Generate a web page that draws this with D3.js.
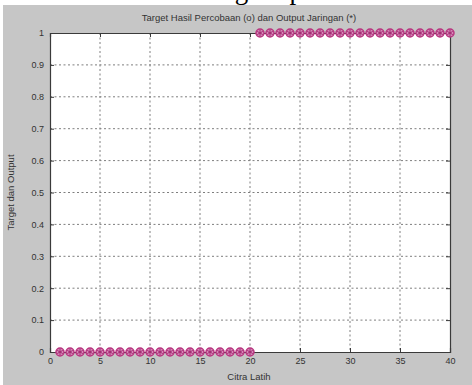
<!DOCTYPE html>
<html>
<head>
<meta charset="utf-8">
<script src="https://cdn.jsdelivr.net/npm/d3@7"></script>
<style>
  html, body { margin: 0; padding: 0; background: #fff; }
  svg { display: block; }
  text { font-family: "Liberation Sans", Arial, sans-serif; }
</style>
</head>
<body>
<svg id="chart" width="472" height="385"></svg>
<script>
// Training images (Citra Latih) 1..40
const imageIndex = d3.range(1, 41);
// Experiment targets (o)
const targetValues = [0,0,0,0,0,0,0,0,0,0,0,0,0,0,0,0,0,0,0,0,
                      1,1,1,1,1,1,1,1,1,1,1,1,1,1,1,1,1,1,1,1];
// Network outputs (*)
const outputValues = [0,0,0,0,0,0,0,0,0,0,0,0,0,0,0,0,0,0,0,0,
                      1,1,1,1,1,1,1,1,1,1,1,1,1,1,1,1,1,1,1,1];
const xTicks = [0, 5, 10, 15, 20, 25, 30, 35, 40];
const yTicks = [0, 0.1, 0.2, 0.3, 0.4, 0.5, 0.6, 0.7, 0.8, 0.9, 1];

const svg = d3.select("#chart");
const W = 472, H = 385;

// page text above the figure (only its descenders show above the figure)
svg.append("text")
  .attr("x", 324).attr("y", -1)
  .attr("text-anchor", "end")
  .style("font-family", "'Liberation Serif', 'Times New Roman', serif")
  .style("font-size", "27px")
  .attr("fill", "#000")
  .text("Hasil training output");

// figure background
svg.append("rect").attr("x", 3).attr("y", 5).attr("width", W - 3).attr("height", H - 5)
  .attr("fill", "#c6c6c6");

const m = { left: 50, top: 33, right: 450, bottom: 352 };
const x = d3.scaleLinear().domain([0, 40]).range([m.left, m.right]);
const y = d3.scaleLinear().domain([0, 1]).range([m.bottom, m.top]);

svg.append("rect").attr("x", m.left).attr("y", m.top)
  .attr("width", m.right - m.left).attr("height", m.bottom - m.top)
  .attr("fill", "#fff");

// dotted grid
const grid = svg.append("g").attr("stroke", "#7e7e7e").attr("stroke-width", 1)
  .attr("stroke-dasharray", "2,2.5");
grid.selectAll("line.v").data(xTicks.slice(1, -1)).join("line")
  .attr("x1", d => x(d)).attr("x2", d => x(d)).attr("y1", m.top).attr("y2", m.bottom);
grid.selectAll("line.h").data(yTicks.slice(1, -1)).join("line")
  .attr("y1", d => y(d)).attr("y2", d => y(d)).attr("x1", m.left).attr("x2", m.right);

// axes with inward ticks
const axisColor = "#3a3a3a";
const xAxis = svg.append("g").attr("transform", `translate(0,${m.bottom})`)
  .call(d3.axisBottom(x).tickValues(xTicks).tickSize(-4).tickPadding(6).tickFormat(d3.format("d")));
const xAxisTop = svg.append("g").attr("transform", `translate(0,${m.top})`)
  .call(d3.axisTop(x).tickValues(xTicks).tickSize(-4).tickFormat(""));
const yAxis = svg.append("g").attr("transform", `translate(${m.left},0)`)
  .call(d3.axisLeft(y).tickValues(yTicks).tickSize(-4).tickPadding(6).tickFormat(d => d === 0 || d === 1 ? d3.format("d")(d) : d3.format(".1f")(d)));
const yAxisRight = svg.append("g").attr("transform", `translate(${m.right},0)`)
  .call(d3.axisRight(y).tickValues(yTicks).tickSize(-4).tickFormat(""));
[xAxis, xAxisTop, yAxis, yAxisRight].forEach(g => {
  g.select(".domain").attr("stroke", axisColor).attr("stroke-width", 1.2);
  g.selectAll(".tick line").attr("stroke", axisColor);
  g.selectAll(".tick text").attr("fill", "#333").style("font-size", "9px");
});

// series: targets as circles, outputs as stars, same colour
const pts = imageIndex.map((d, i) => ({ i: d, t: targetValues[i], o: outputValues[i] }));
const markColor = "#b8357f";
svg.append("g").selectAll("circle").data(pts).join("circle")
  .attr("cx", d => x(d.i)).attr("cy", d => y(d.t)).attr("r", 4)
  .attr("fill", "#d98bbb").attr("stroke", markColor).attr("stroke-width", 1.5);
const star = d3.symbol().type(d3.symbolAsterisk || d3.symbolCross).size(28);
svg.append("g").selectAll("path").data(pts).join("path")
  .attr("transform", d => `translate(${x(d.i)},${y(d.o)})`)
  .attr("d", star)
  .attr("fill", "none").attr("stroke", "#a02a70").attr("stroke-width", 1);

// labels
svg.append("text").attr("x", (m.left + m.right) / 2 - 1).attr("y", 21)
  .attr("text-anchor", "middle").style("font-size", "9.5px").attr("fill", "#333")
  .text("Target Hasil Percobaan (o) dan Output Jaringan (*)");
svg.append("text").attr("x", (m.left + m.right) / 2 - 1).attr("y", 380)
  .attr("text-anchor", "middle").style("font-size", "9.5px").attr("fill", "#333")
  .text("Citra Latih");
svg.append("text")
  .attr("transform", `translate(14,${(m.top + m.bottom) / 2}) rotate(-90)`)
  .attr("text-anchor", "middle").style("font-size", "9.5px").attr("fill", "#333")
  .text("Target dan Output");
</script>
</body>
</html>
